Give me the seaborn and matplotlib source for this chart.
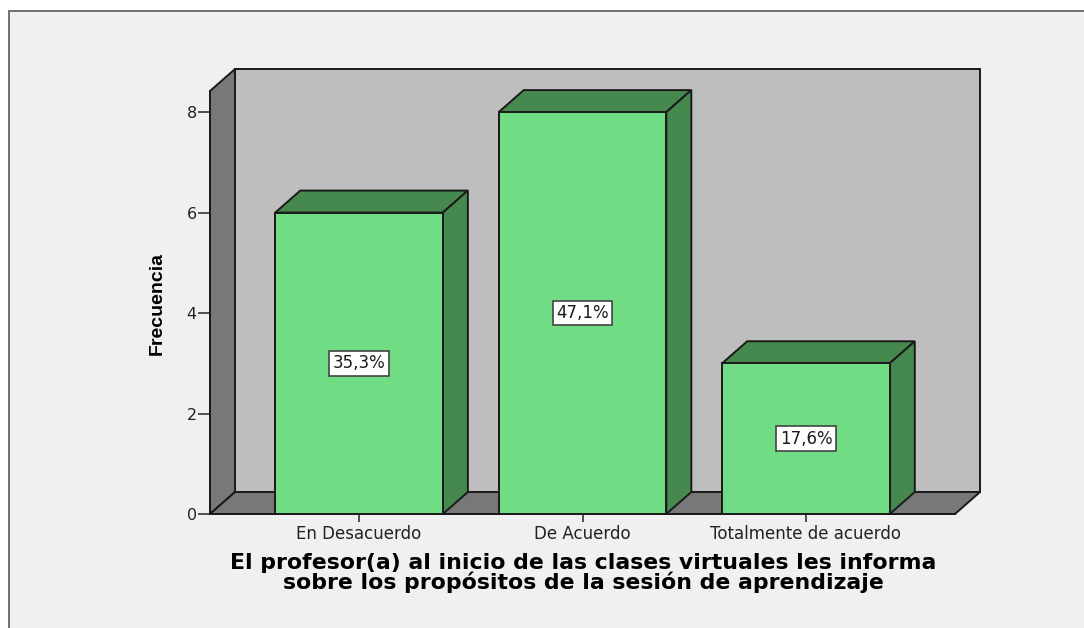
import matplotlib
matplotlib.use("Agg")
import matplotlib.pyplot as plt
from matplotlib.patches import Polygon, Rectangle
import pandas as pd
import seaborn as sns

categories = ["En Desacuerdo", "De Acuerdo", "Totalmente de acuerdo"]
counts = [6, 8, 3]
percent_labels = ["35,3%", "47,1%", "17,6%"]
y_ticks = [0, 2, 4, 6, 8]

W, H = 1084, 628
FRONT = "#70dd85"
SIDE = "#46894f"
WALL = "#bebebe"
FLOOR = "#787878"
PANEL = "#f0f0f0"
EDGE = "#1a1a1a"

# depth of the fake 3D box, in data units
XMIN, XMAX = -0.667, 2.667
YMAX = 8.42
DX, DY = 0.112, 0.438

sns.set_theme(style="white")
plt.rcParams["font.family"] = ["Liberation Sans", "DejaVu Sans"]

fig = plt.figure(figsize=(W / 100, H / 100), dpi=100, facecolor="white")
fig.add_artist(Rectangle((9 / W, -0.02), 1.1, (628 - 11) / H + 0.02, transform=fig.transFigure,
                         facecolor=PANEL, edgecolor="#707070", linewidth=1.4, zorder=-1))

ax = fig.add_axes([210 / W, (H - 514) / H, 745 / W, 423 / H])
ax.patch.set_alpha(0)


def face(points, color, z):
    ax.add_patch(Polygon(points, closed=True, facecolor=color, edgecolor=EDGE,
                         linewidth=1.4, zorder=z, clip_on=False))


# back wall, left wall, floor
face([(XMIN + DX, DY), (XMAX + DX, DY), (XMAX + DX, YMAX + DY), (XMIN + DX, YMAX + DY)], WALL, 1)
face([(XMIN, 0), (XMIN + DX, DY), (XMIN + DX, YMAX + DY), (XMIN, YMAX)], FLOOR, 1.1)
face([(XMIN, 0), (XMAX, 0), (XMAX + DX, DY), (XMIN + DX, DY)], FLOOR, 1.1)

df = pd.DataFrame({"categoria": categories, "frecuencia": counts})
sns.barplot(data=df, x="categoria", y="frecuencia", color=FRONT, saturation=1, width=0.75,
            edgecolor=EDGE, linewidth=1.4, zorder=3, ax=ax)

for bar, label in zip(list(ax.containers[0]), percent_labels):
    x0, x1, top = bar.get_x(), bar.get_x() + bar.get_width(), bar.get_height()
    face([(x0, top), (x1, top), (x1 + DX, top + DY), (x0 + DX, top + DY)], SIDE, 2.5)
    face([(x1, 0), (x1 + DX, DY), (x1 + DX, top + DY), (x1, top)], SIDE, 2.5)
    ax.text((x0 + x1) / 2, top / 2, label, ha="center", va="center", fontsize=12,
            family="DejaVu Sans", color="#1a1a1a", zorder=5,
            bbox=dict(boxstyle="square,pad=0.2", facecolor="white", edgecolor="#444444", linewidth=1.2))

ax.set_xlim(XMIN, XMAX)
ax.set_ylim(0, YMAX)
ax.set_yticks(y_ticks)
ax.tick_params(axis="y", length=8.5, width=1.2, color="#333333", labelsize=11.5, pad=1,
               left=True, labelcolor="#222222")
ax.tick_params(axis="x", length=6, width=1.2, color="#333333", labelsize=12, pad=2,
               bottom=True, labelcolor="#222222")
for t in ax.get_xticklabels() + ax.get_yticklabels():
    t.set_family("DejaVu Sans")

sns.despine(ax=ax, top=True, right=True)
for side in ("left", "bottom"):
    ax.spines[side].set_color(EDGE)
    ax.spines[side].set_linewidth(1.4)

ax.set_xlabel("")
ax.set_ylabel("")
fig.text(157 / W, 1 - 303 / H, "Frecuencia", rotation=90, ha="center", va="center",
         fontsize=14, fontweight="bold", family="Liberation Sans", color="black")
fig.text(583 / W, 1 - 573 / H,
         "El profesor(a) al inicio de las clases virtuales les informa\n"
         "sobre los propósitos de la sesión de aprendizaje",
         ha="center", va="center", multialignment="center", fontsize=15.8, fontweight="bold",
         family="DejaVu Sans", color="black", linespacing=0.97)

fig.savefig("out.png", dpi=100, facecolor=fig.get_facecolor())
